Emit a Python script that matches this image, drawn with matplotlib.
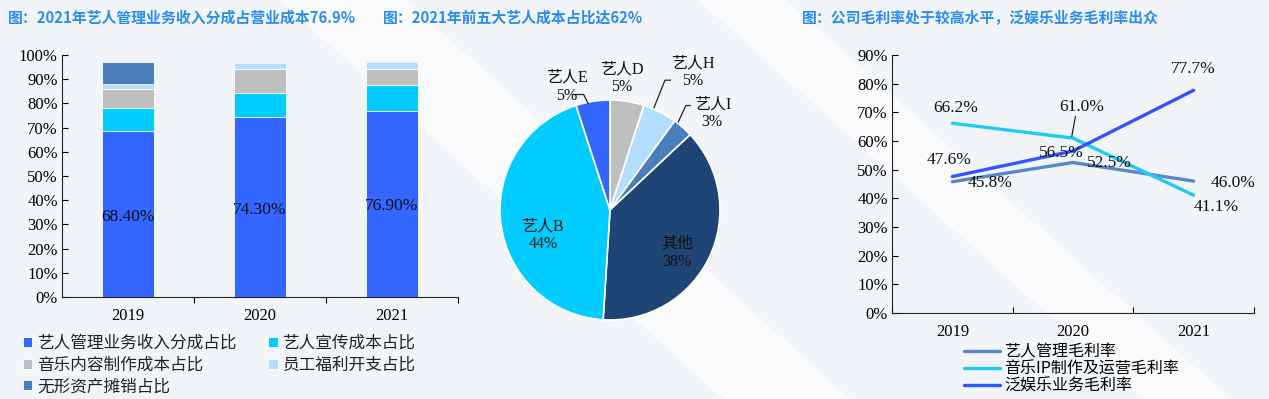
import matplotlib
matplotlib.use("Agg")
import matplotlib.pyplot as plt
import numpy as np
from matplotlib.ticker import FuncFormatter, MultipleLocator
from matplotlib.patches import Polygon

plt.rcParams['font.family'] = ['Liberation Serif', 'Noto Sans CJK SC']
plt.rcParams['axes.unicode_minus'] = False

# ---------------- data ----------------
years = ['2019', '2020', '2021']
bar_series = ['艺人管理业务收入分成占比', '艺人宣传成本占比', '音乐内容制作成本占比',
              '员工福利开支占比', '无形资产摊销占比']
artist_share = [68.4, 74.3, 76.9]
promo_share = [9.6, 10.0, 10.5]
music_share = [7.8, 10.0, 7.0]
staff_share = [2.2, 2.5, 2.9]
amort_share = [9.0, 0.4, 0.4]

pie_labels = ['艺人D', '艺人H', '艺人I', '其他', '艺人B', '艺人E']
pie_values = [5, 5, 3, 38, 44, 5]

line_names = ['艺人管理毛利率', '音乐IP制作及运营毛利率', '泛娱乐业务毛利率']
artist_margin = [45.8, 52.5, 46.0]
music_margin = [66.2, 61.0, 41.1]
ent_margin = [47.6, 56.5, 77.7]

# ---------------- style ----------------
bar_colors = ['#3366FF', '#00CCFF', '#BFBFBF', '#B4DEFF', '#4A7EBB']
pie_colors = ['#BFBFBF', '#B4DEFF', '#4A7EBB', '#1F4576', '#00CCFF', '#3366FF']
line_colors = ['#5A87C6', '#1FCBF5', '#3355FF']
title_color = '#2A8CF0'
bg = '#F1F5FA'

fig = plt.figure(figsize=(12.69, 3.99), dpi=100, facecolor=bg)

# background decoration axes (behind everything)
axbg = fig.add_axes([0, 0, 1, 1], zorder=-10)
axbg.set_xlim(0, 1)
axbg.set_ylim(0, 1)
axbg.axis('off')
for (x0, w) in [(0.22, 0.10), (0.55, 0.07)]:
    axbg.add_patch(Polygon([[x0, 1.0], [x0 + w, 1.0], [x0 + w + 0.35, 0.0], [x0 + 0.35, 0.0]],
                           closed=True, facecolor='white', alpha=0.5, edgecolor='none'))

tfont = dict(family=['Noto Sans CJK SC'], fontweight='bold', color=title_color, fontsize=10.7)
fig.text(0.006, 0.955, '图：2021年艺人管理业务收入分成占营业成本76.9%', va='center', ha='left', **tfont)
fig.text(0.302, 0.955, '图：2021年前五大艺人成本占比达62%', va='center', ha='left', **tfont)
fig.text(0.632, 0.955, '图：公司毛利率处于较高水平，泛娱乐业务毛利率出众', va='center', ha='left', **tfont)

pct = FuncFormatter(lambda v, p: f'{v:.0f}%')

# ---------------- stacked bar ----------------
ax1 = fig.add_axes([62 / 1269, 1 - 297 / 399, 396 / 1269, (297 - 55) / 399])
ax1.set_facecolor('none')
x = np.arange(len(years))
stack = [artist_share, promo_share, music_share, staff_share, amort_share]
bottom = np.zeros(len(years))
handles = []
for name, vals, c in zip(bar_series, stack, bar_colors):
    h = ax1.bar(x, vals, width=0.4, bottom=bottom, color=c, label=name,
                edgecolor='white', linewidth=0.6)
    handles.append(h)
    bottom = bottom + np.array(vals)
for xi, v in zip(x, artist_share):
    ax1.text(xi, v / 2 - 1, f'{v:.2f}%', ha='center', va='center', fontsize=12.5, color='#111111')
ax1.set_xlim(-0.5, 2.5)
ax1.set_ylim(0, 100)
ax1.yaxis.set_major_locator(MultipleLocator(10))
ax1.yaxis.set_major_formatter(pct)
ax1.set_xticks([0.5, 1.5, 2.5], minor=False)
ax1.set_xticklabels([])
ax1.set_xticks(x, minor=True)
ax1.set_xticklabels(years, minor=True, fontsize=12)
ax1.tick_params(axis='x', which='minor', length=0, pad=8)
ax1.tick_params(axis='x', which='major', length=4, direction='out')
ax1.tick_params(axis='y', labelsize=12, length=4, direction='in', pad=3)
for s in ['top', 'right']:
    ax1.spines[s].set_visible(False)
ax1.spines['left'].set_color('#222222')
ax1.spines['bottom'].set_color('#222222')
order = [0, 2, 4, 1, 3]
leg1 = fig.legend([handles[i] for i in order], [bar_series[i] for i in order],
                  ncol=2, loc='upper left', bbox_to_anchor=(8 / 1269, 1 - 320 / 399),
                  frameon=False, handlelength=0.55, handleheight=0.55, handletextpad=0.3,
                  columnspacing=1.9, labelspacing=0.28,
                  prop={'family': ['Noto Sans CJK SC'], 'size': 12})
for t in leg1.get_texts():
    t.set_color('#222222')

# ---------------- pie ----------------
r_px = 110
ax2 = fig.add_axes([(610 - r_px) / 1269, (399 - 320) / 399, 2 * r_px / 1269, 2 * r_px / 399])
ax2.set_facecolor('none')
wedges, _ = ax2.pie(pie_values, colors=pie_colors, startangle=90, counterclock=False,
                    wedgeprops=dict(edgecolor='white', linewidth=1.2), radius=1.0)
ax2.set_xlim(-1, 1)
ax2.set_ylim(-1, 1)
ax2.set_aspect('auto')
label_pos = [(0.11, 1.20), (0.75, 1.25), (0.93, 0.88), (0.61, -0.39), (-0.61, -0.23), (-0.39, 1.12)]
leader = {1: (0.40, 0.93), 2: (0.62, 0.80), 5: (-0.20, 0.97)}
for i, (lab, v) in enumerate(zip(pie_labels, pie_values)):
    px, py = label_pos[i]
    ax2.text(px, py, f'{lab}\n{v}%', ha='center', va='center', fontsize=11.5,
             linespacing=1.15, color='#111111', clip_on=False)
    if i in leader:
        lx, ly = leader[i]
        if i == 5:
            pts = [(px + 0.05, py - 0.07), (px + 0.15, py - 0.07), (lx, ly)]
        elif i == 1:
            pts = [(px - 0.20, py - 0.07), (px - 0.25, py - 0.07), (lx, ly)]
        else:
            pts = [(px - 0.20, py + 0.07), (px - 0.24, py + 0.07), (lx, ly)]
        ax2.plot([p[0] for p in pts], [p[1] for p in pts], color='#222222', lw=0.9,
                 clip_on=False)

# ---------------- lines ----------------
ax3 = fig.add_axes([892 / 1269, 1 - 313 / 399, 362 / 1269, (313 - 55) / 399])
ax3.set_facecolor('none')
for name, vals, c in zip(line_names, [artist_margin, music_margin, ent_margin], line_colors):
    ax3.plot(x, vals, color=c, lw=2.4, label=name, solid_capstyle='round')
ax3.set_xlim(-0.5, 2.5)
ax3.set_ylim(0, 90)
ax3.yaxis.set_major_locator(MultipleLocator(10))
ax3.yaxis.set_major_formatter(pct)
ax3.set_xticks([-0.5, 0.5, 1.5, 2.5])
ax3.set_xticklabels([])
ax3.set_xticks(x, minor=True)
ax3.set_xticklabels(years, minor=True, fontsize=12)
ax3.tick_params(axis='x', which='minor', length=0, pad=8)
ax3.tick_params(axis='x', which='major', length=4, direction='in')
ax3.tick_params(axis='y', labelsize=12, length=4, direction='in', pad=3)
for s in ['top', 'right']:
    ax3.spines[s].set_visible(False)
ax3.spines['left'].set_color('#222222')
ax3.spines['bottom'].set_color('#222222')

lab_kw = dict(fontsize=12.5, color='#111111', ha='center', va='center')
ax3.text(0.31, artist_margin[0] - 0.5, f'{artist_margin[0]:.1f}%', **lab_kw)
ax3.text(1.30, artist_margin[1] - 0.2, f'{artist_margin[1]:.1f}%', **lab_kw)
ax3.text(2.33, artist_margin[2] - 0.7, f'{artist_margin[2]:.1f}%', **lab_kw)
ax3.text(0.03, music_margin[0] + 5.3, f'{music_margin[0]:.1f}%', **lab_kw)
ax3.text(1.07, music_margin[1] + 10.9, f'{music_margin[1]:.1f}%', **lab_kw)
ax3.plot([1.02, 0.99], [music_margin[1] + 7.5, music_margin[1] + 0.6], color='#222222', lw=0.9)
ax3.text(2.19, music_margin[2] - 4.1, f'{music_margin[2]:.1f}%', **lab_kw)
ax3.text(-0.03, ent_margin[0] + 5.8, f'{ent_margin[0]:.1f}%', **lab_kw)
ax3.text(0.90, ent_margin[1] - 0.7, f'{ent_margin[1]:.1f}%', **lab_kw)
ax3.text(2.0, ent_margin[2] + 7.4, f'{ent_margin[2]:.1f}%', **lab_kw)

leg3 = fig.legend(loc='upper left', handles=ax3.get_lines()[:3], labels=line_names,
                  bbox_to_anchor=(950 / 1269, 1 - 329 / 399), frameon=False,
                  handlelength=2.2, handletextpad=0.3, labelspacing=0.0,
                  prop={'family': ['Noto Sans CJK SC'], 'size': 11.5})

fig.savefig('out.png', dpi=100, facecolor=fig.get_facecolor())
